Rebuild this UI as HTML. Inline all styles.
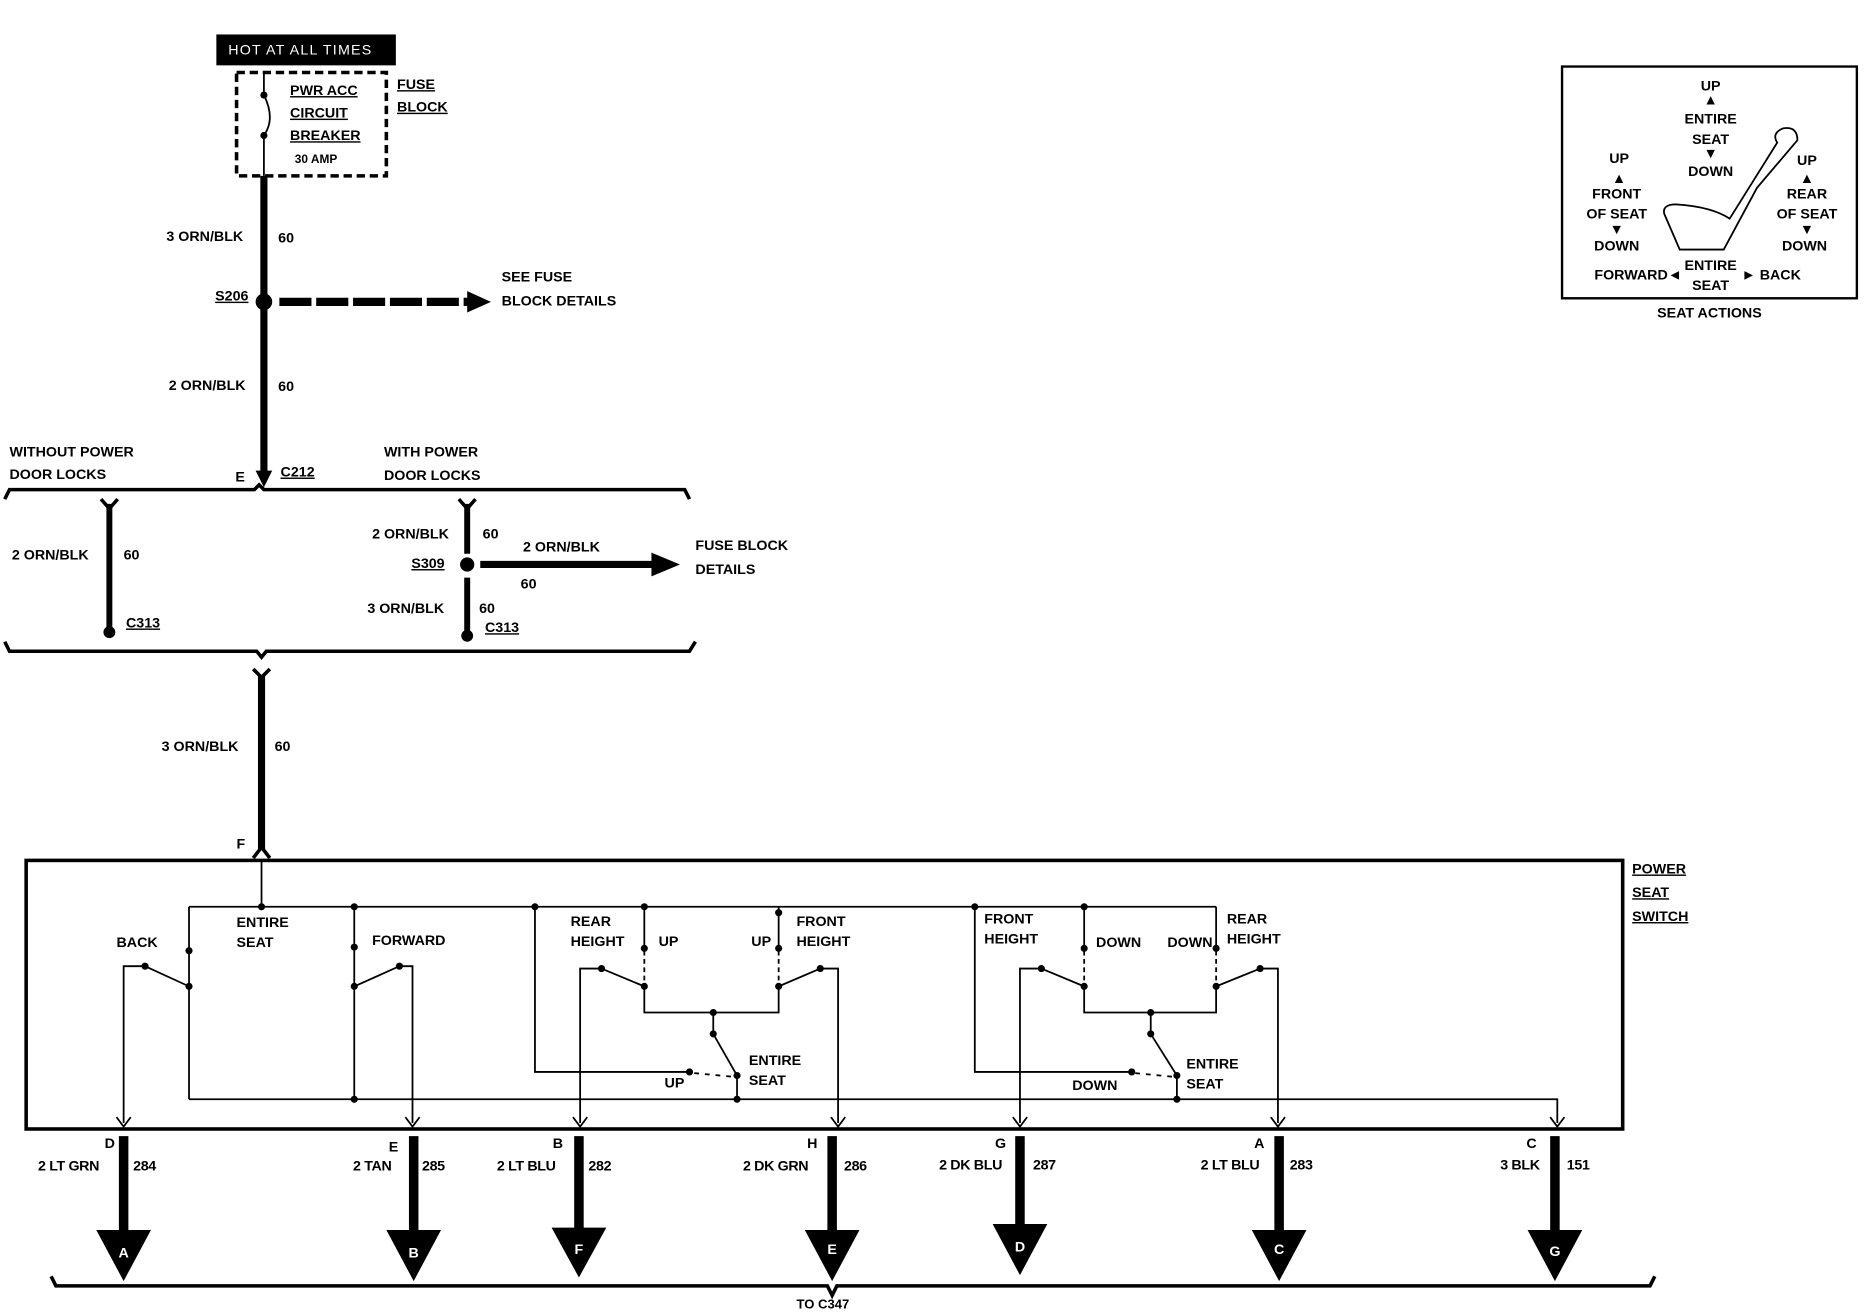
<!DOCTYPE html>
<html><head><meta charset="utf-8"><style>
html,body{margin:0;padding:0;background:#fff}
svg{display:block}
text{font-family:"Liberation Sans",sans-serif;font-weight:bold;font-size:12px;fill:#000}
</style></head><body>
<svg width="1864" height="1312" viewBox="0 0 1568 1104" preserveAspectRatio="none" xmlns="http://www.w3.org/2000/svg">
<rect width="1568" height="1104" fill="#fff"/>
<rect x="182" y="29" width="151" height="26" fill="#000"/>
<text x="192" y="46" style="fill:#fff;font-weight:normal;letter-spacing:1px">HOT AT ALL TIMES</text>
<rect x="199" y="61" width="126" height="87" fill="none" stroke="#000" stroke-width="3" stroke-dasharray="7,4"/>
<line x1="222" y1="61" x2="222" y2="80" stroke="#000" stroke-width="1.5"/>
<path d="M222 80 Q232 100 222 114" fill="none" stroke="#000" stroke-width="1.5"/>
<line x1="222" y1="114" x2="222" y2="148" stroke="#000" stroke-width="1.5"/>
<circle cx="222" cy="80" r="3"/><circle cx="222" cy="114" r="3"/>
<text x="244" y="80" text-decoration="underline">PWR ACC</text>
<text x="244" y="99" text-decoration="underline">CIRCUIT</text>
<text x="244" y="118" text-decoration="underline">BREAKER</text>
<text x="248" y="137" style="font-size:10px">30 AMP</text>
<text x="334" y="75" text-decoration="underline">FUSE</text>
<text x="334" y="94" text-decoration="underline">BLOCK</text>
<line x1="222" y1="148" x2="222" y2="398" stroke="#000" stroke-width="6"/>
<polygon points="215,396 229,396 222,410"/>
<text x="140" y="203">3 ORN/BLK</text><text x="234" y="204">60</text>
<circle cx="222" cy="254" r="7"/>
<text x="181" y="253" text-decoration="underline">S206</text>
<line x1="235" y1="254" x2="395" y2="254" stroke="#000" stroke-width="7" stroke-dasharray="27,4"/>
<polygon points="393,245 413,254 393,263"/>
<text x="422" y="237">SEE FUSE</text><text x="422" y="257">BLOCK DETAILS</text>
<text x="142" y="328">2 ORN/BLK</text><text x="234" y="329">60</text>
<text x="8" y="384">WITHOUT POWER</text><text x="8" y="403">DOOR LOCKS</text>
<text x="198" y="405">E</text><text x="236" y="401" text-decoration="underline">C212</text>
<text x="323" y="384">WITH POWER</text><text x="323" y="404">DOOR LOCKS</text>
<path d="M4 420 L8 412 L214 412 L218 408 L222 412 L576 412 L580 420" fill="none" stroke="#000" stroke-width="3"/>
<line x1="92" y1="424" x2="92" y2="532" stroke="#000" stroke-width="5"/>
<path d="M85 420 L92 428 L99 420" fill="none" stroke="#000" stroke-width="3"/>
<circle cx="92" cy="532" r="5"/>
<text x="10" y="471">2 ORN/BLK</text><text x="104" y="471">60</text>
<text x="106" y="528" text-decoration="underline">C313</text>
<line x1="393" y1="424" x2="393" y2="466" stroke="#000" stroke-width="5"/>
<path d="M386 420 L393 428 L400 420" fill="none" stroke="#000" stroke-width="3"/>
<circle cx="393" cy="475" r="6"/>
<line x1="393" y1="486" x2="393" y2="535" stroke="#000" stroke-width="5"/>
<circle cx="393" cy="535" r="5"/>
<line x1="404" y1="475" x2="552" y2="475" stroke="#000" stroke-width="6"/>
<polygon points="548,465 572,475 548,485"/>
<text x="313" y="453">2 ORN/BLK</text><text x="406" y="453">60</text>
<text x="346" y="478" text-decoration="underline">S309</text>
<text x="440" y="464">2 ORN/BLK</text><text x="438" y="495">60</text>
<text x="585" y="463">FUSE BLOCK</text><text x="585" y="483">DETAILS</text>
<text x="309" y="516">3 ORN/BLK</text><text x="403" y="516">60</text>
<text x="408" y="532" text-decoration="underline">C313</text>
<path d="M4 540 L8 548 L216 548 L220 553 L224 548 L580 548 L585 540" fill="none" stroke="#000" stroke-width="3"/>
<path d="M213 563 L220 570 L227 563" fill="none" stroke="#000" stroke-width="3"/>
<line x1="220" y1="568" x2="220" y2="715" stroke="#000" stroke-width="6"/>
<path d="M213 722 L220 713 L227 722" fill="none" stroke="#000" stroke-width="3"/>
<text x="136" y="632">3 ORN/BLK</text><text x="231" y="632">60</text>
<text x="199" y="714">F</text>
<rect x="22" y="724" width="1343" height="226" fill="none" stroke="#000" stroke-width="3"/>
<text x="1373" y="735" text-decoration="underline">POWER</text>
<text x="1373" y="755" text-decoration="underline">SEAT</text>
<text x="1373" y="775" text-decoration="underline">SWITCH</text>
<g stroke="#000" stroke-width="1.5" fill="none">
<line x1="220" y1="724" x2="220" y2="763"/>
<polyline points="159,763 1023,763"/>
<line x1="159" y1="763" x2="159" y2="925"/>
<polyline points="159,925 1310,925 1310,945"/>
<polyline points="104,945 104,813 122,813"/>
<line x1="122" y1="813" x2="159" y2="830"/>
<line x1="298" y1="763" x2="298" y2="925"/>
<line x1="298" y1="830" x2="336" y2="813"/>
<polyline points="336,813 347,813 347,945"/>
<polyline points="450,763 450,902 580,902"/>
<line x1="542" y1="763" x2="542" y2="797"/>
<line x1="542" y1="800" x2="542" y2="828" stroke-dasharray="4,3"/>
<polyline points="542,830 542,852 655,852 655,830"/>
<line x1="655" y1="800" x2="655" y2="828" stroke-dasharray="4,3"/>
<line x1="655" y1="763" x2="655" y2="797"/>
<line x1="506" y1="815" x2="542" y2="830"/>
<polyline points="506,815 488,815 488,945"/>
<line x1="655" y1="830" x2="690" y2="815"/>
<polyline points="690,815 705,815 705,945"/>
<line x1="600" y1="852" x2="600" y2="870"/>
<line x1="600" y1="870" x2="620" y2="905"/>
<line x1="620" y1="905" x2="620" y2="925"/>
<line x1="584" y1="903" x2="616" y2="906" stroke-dasharray="4,5"/>
<polyline points="820,763 820,902 952,902"/>
<line x1="912" y1="763" x2="912" y2="797"/>
<line x1="912" y1="800" x2="912" y2="828" stroke-dasharray="4,3"/>
<polyline points="912,830 912,852 1023,852 1023,830"/>
<line x1="1023" y1="800" x2="1023" y2="828" stroke-dasharray="4,3"/>
<line x1="1023" y1="763" x2="1023" y2="797"/>
<line x1="876" y1="815" x2="912" y2="830"/>
<polyline points="876,815 858,815 858,945"/>
<line x1="1023" y1="830" x2="1060" y2="815"/>
<polyline points="1060,815 1075,815 1075,945"/>
<line x1="968" y1="852" x2="968" y2="870"/>
<line x1="968" y1="870" x2="990" y2="905"/>
<line x1="990" y1="905" x2="990" y2="925"/>
<line x1="955" y1="903" x2="986" y2="906" stroke-dasharray="4,5"/>
<path d="M98 940 L104 948 L110 940 M341 940 L347 948 L353 940 M482 940 L488 948 L494 940 M699 940 L705 948 L711 940 M852 940 L858 948 L864 940 M1069 940 L1075 948 L1081 940 M1304 940 L1310 948 L1316 940"/>
</g>
<g>
<circle cx="220" cy="763" r="3"/><circle cx="298" cy="763" r="3"/><circle cx="450" cy="763" r="3"/><circle cx="542" cy="763" r="3"/><circle cx="655" cy="768" r="3"/><circle cx="820" cy="763" r="3"/><circle cx="912" cy="763" r="3"/>
<circle cx="159" cy="800" r="3"/><circle cx="159" cy="830" r="3"/><circle cx="122" cy="813" r="3"/>
<circle cx="298" cy="797" r="3"/><circle cx="298" cy="830" r="3"/><circle cx="336" cy="813" r="3"/><circle cx="298" cy="925" r="3"/>
<circle cx="542" cy="798" r="3"/><circle cx="542" cy="830" r="3"/><circle cx="506" cy="815" r="3"/>
<circle cx="655" cy="798" r="3"/><circle cx="655" cy="830" r="3"/><circle cx="690" cy="815" r="3"/>
<circle cx="600" cy="852" r="3"/><circle cx="600" cy="870" r="3"/><circle cx="620" cy="905" r="3"/><circle cx="580" cy="902" r="3"/><circle cx="620" cy="925" r="3"/>
<circle cx="912" cy="798" r="3"/><circle cx="912" cy="830" r="3"/><circle cx="876" cy="815" r="3"/>
<circle cx="1023" cy="798" r="3"/><circle cx="1023" cy="830" r="3"/><circle cx="1060" cy="815" r="3"/>
<circle cx="968" cy="852" r="3"/><circle cx="968" cy="870" r="3"/><circle cx="990" cy="905" r="3"/><circle cx="952" cy="902" r="3"/><circle cx="990" cy="925" r="3"/>
</g>
<g style="font-size:11px">
<text x="199" y="780">ENTIRE</text><text x="199" y="797">SEAT</text>
<text x="98" y="797">BACK</text><text x="313" y="795">FORWARD</text>
<text x="480" y="779">REAR</text><text x="480" y="796">HEIGHT</text><text x="554" y="796">UP</text>
<text x="632" y="796">UP</text><text x="670" y="779">FRONT</text><text x="670" y="796">HEIGHT</text>
<text x="630" y="896">ENTIRE</text><text x="630" y="913">SEAT</text><text x="559" y="915">UP</text>
<text x="828" y="777">FRONT</text><text x="828" y="794">HEIGHT</text><text x="922" y="797">DOWN</text>
<text x="982" y="797">DOWN</text><text x="1032" y="777">REAR</text><text x="1032" y="794">HEIGHT</text>
<text x="998" y="899">ENTIRE</text><text x="998" y="916">SEAT</text><text x="902" y="917">DOWN</text>
</g>
<g>
<rect x="100" y="956" width="8" height="80"/><polygon points="81,1035 127,1035 104,1078"/>
<rect x="344" y="956" width="8" height="80"/><polygon points="325,1035 371,1035 348,1078"/>
<rect x="483" y="956" width="8" height="80"/><polygon points="464,1033 510,1033 487,1075"/>
<rect x="696" y="956" width="8" height="80"/><polygon points="677,1035 723,1035 700,1078"/>
<rect x="854" y="956" width="8" height="75"/><polygon points="835,1030 881,1030 858,1073"/>
<rect x="1072" y="956" width="8" height="80"/><polygon points="1053,1035 1099,1035 1076,1078"/>
<rect x="1304" y="956" width="8" height="80"/><polygon points="1285,1035 1331,1035 1308,1078"/>
</g>
<g style="font-size:16px" text-anchor="middle">
<text x="104" y="1058" style="fill:#fff">A</text><text x="348" y="1058" style="fill:#fff">B</text><text x="487" y="1055" style="fill:#fff">F</text><text x="700" y="1055" style="fill:#fff">E</text><text x="858" y="1053" style="fill:#fff">D</text><text x="1076" y="1055" style="fill:#fff">C</text><text x="1308" y="1057" style="fill:#fff">G</text>
</g>
<g style="font-size:11.5px;letter-spacing:-0.3px">
<text x="88" y="966">D</text><text x="32" y="985">2 LT GRN</text><text x="112" y="985">284</text>
<text x="327" y="969">E</text><text x="297" y="985">2 TAN</text><text x="355" y="985">285</text>
<text x="465" y="966">B</text><text x="418" y="985">2 LT BLU</text><text x="495" y="985">282</text>
<text x="679" y="966">H</text><text x="625" y="985">2 DK GRN</text><text x="710" y="985">286</text>
<text x="837" y="966">G</text><text x="790" y="984">2 DK BLU</text><text x="869" y="984">287</text>
<text x="1055" y="966">A</text><text x="1010" y="984">2 LT BLU</text><text x="1085" y="984">283</text>
<text x="1284" y="966">C</text><text x="1262" y="984">3 BLK</text><text x="1318" y="984">151</text>
</g>
<path d="M43 1074 L47 1082 L696 1082 L700 1090 L704 1082 L1388 1082 L1392 1074" fill="none" stroke="#000" stroke-width="3"/>
<text x="670" y="1101" style="font-size:11px">TO C347</text>
<rect x="1314" y="56" width="248" height="195" fill="none" stroke="#000" stroke-width="2"/>
<g style="font-size:10px;font-weight:normal" text-anchor="middle">
<text x="1439" y="76">UP</text><text x="1439" y="88">▲</text><text x="1439" y="104">ENTIRE</text><text x="1439" y="121">SEAT</text><text x="1439" y="133">▼</text><text x="1439" y="148">DOWN</text>
<text x="1362" y="137">UP</text><text x="1362" y="154">▲</text><text x="1360" y="167">FRONT</text><text x="1360" y="184">OF SEAT</text><text x="1360" y="197">▼</text><text x="1360" y="211">DOWN</text>
<text x="1520" y="139">UP</text><text x="1520" y="154">▲</text><text x="1520" y="167">REAR</text><text x="1520" y="184">OF SEAT</text><text x="1520" y="197">▼</text><text x="1518" y="211">DOWN</text>
<text x="1378" y="235">FORWARD◄</text><text x="1439" y="227">ENTIRE</text><text x="1439" y="244">SEAT</text><text x="1490" y="235">► BACK</text>
<text x="1438" y="267">SEAT ACTIONS</text>
</g>
<path d="M1400 180 Q1398 172 1410 172 Q1440 174 1455 184 L1495 120 Q1490 112 1500 108 Q1512 106 1512 118 L1478 158 L1450 210 L1413 210 Z" fill="none" stroke="#000" stroke-width="1.5"/>
</svg>
</body></html>
